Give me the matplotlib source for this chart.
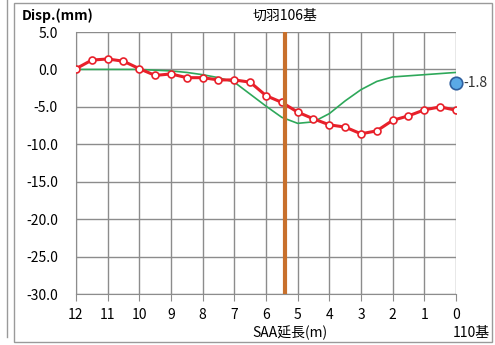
"""Recreate the SAA displacement chart (切羽106基)."""

import matplotlib
matplotlib.use("Agg")
import matplotlib.pyplot as plt
from matplotlib.patches import Rectangle

plt.rcParams["font.family"] = ["Noto Sans CJK JP", "DejaVu Sans"]

# distance along SAA (m), 0.5 m pitch from 12 to 0
depth = [12.0, 11.5, 11.0, 10.5, 10.0, 9.5, 9.0, 8.5, 8.0, 7.5, 7.0, 6.5, 6.0,
         5.5, 5.0, 4.5, 4.0, 3.5, 3.0, 2.5, 2.0, 1.5, 1.0, 0.5, 0.0]

# measured displacement (mm)
disp_measured = [0.1, 1.25, 1.4, 1.1, 0.1, -0.8, -0.6, -1.1, -1.1, -1.4, -1.4,
                 -1.7, -3.5, -4.4, -5.7, -6.6, -7.4, -7.7, -8.6, -8.2, -6.8,
                 -6.2, -5.4, -5.0, -5.45]

# reference curve (mm)
disp_reference = [0.0, 0.0, 0.0, 0.0, 0.0, -0.1, -0.2, -0.4, -0.7, -1.1, -1.7,
                  -3.3, -4.9, -6.4, -7.2, -7.0, -5.9, -4.2, -2.7, -1.6, -1.0,
                  -0.85, -0.7, -0.55, -0.4]

face_position = 5.4
head_value = -1.8
x_ticks = list(range(12, -1, -1))
y_ticks = [5.0, 0.0, -5.0, -10.0, -15.0, -20.0, -25.0, -30.0]

fig = plt.figure(figsize=(4.95, 3.45), dpi=100)
ax = fig.add_axes([0.1535, 0.1478, 0.7677, 0.7594])

# outer frame like the spreadsheet chart area
fig.patches.append(Rectangle((14 / 495, 3 / 345), 478 / 495, 339 / 345,
                             transform=fig.transFigure, fill=False,
                             edgecolor="#9a9a9a", lw=1.0))
fig.add_artist(plt.Line2D([7 / 495, 7 / 495], [8 / 345, 1.0],
                          transform=fig.transFigure, color="#9a9a9a", lw=1.0))

grid_color = "#8c8c8c"
ax.set_xlim(12, 0)
ax.set_ylim(-30, 5)
ax.set_xticks(x_ticks)
ax.set_yticks(y_ticks)
ax.set_yticklabels([f"{v:.1f}" for v in y_ticks])
ax.grid(True, color=grid_color, lw=1.0)
ax.set_axisbelow(True)
for side in ["top", "right"]:
    ax.spines[side].set_visible(False)
for side in ["left", "bottom"]:
    ax.spines[side].set_color(grid_color)
ax.tick_params(axis="x", length=5, color=grid_color, labelsize=10, pad=5)
ax.tick_params(axis="y", length=0, labelsize=10, pad=13)

ax.plot(depth, disp_reference, color="#2ea85a", lw=1.2, zorder=3)
ax.plot(depth, disp_measured, color="#e8202a", lw=2.2, marker="o", ms=5,
        markerfacecolor="white", markeredgecolor="#e8202a", mew=1.2, zorder=4)
ax.axvline(face_position, color="#c8702c", lw=3.0, zorder=5)

ax.plot([0], [head_value], marker="o", ms=9, color="#5aa9e6",
        markeredgecolor="#2f5f9e", mew=1.2, clip_on=False, zorder=6)
ax.annotate(f"{head_value:.1f}", xy=(0, head_value), xytext=(5, 0),
            textcoords="offset points", va="center", ha="left", fontsize=10,
            color="#333333", annotation_clip=False)

fig.text(22 / 495, 1 - 16 / 345, "Disp.(mm)", fontsize=10, fontweight="bold",
         va="center", ha="left")
fig.text(285 / 495, 1 - 16 / 345, "切羽106基", fontsize=10, va="center",
         ha="center")
fig.text(290 / 495, 1 - 333 / 345, "SAA延長(m)", fontsize=10, va="center",
         ha="center")
fig.text(471 / 495, 1 - 333 / 345, "110基", fontsize=10, va="center",
         ha="center")

fig.savefig("out.png", dpi=100, facecolor="white")
